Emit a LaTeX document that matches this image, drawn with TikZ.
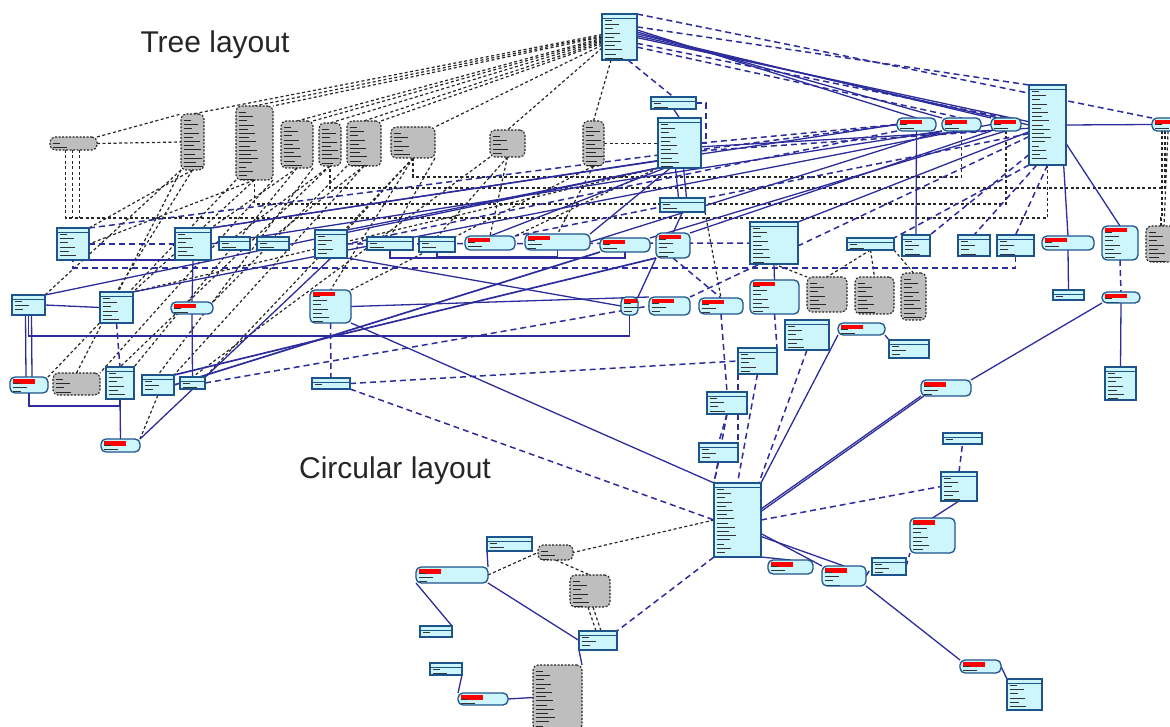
\documentclass[tikz,border=0pt]{standalone}
\usepackage{fontspec}
\newfontfamily\lbl{Liberation Sans}
\usetikzlibrary{calc}
\definecolor{tblf}{RGB}{204,246,252}
\definecolor{tblb}{RGB}{30,84,140}
\definecolor{lnb}{RGB}{44,44,156}
\definecolor{gfill}{RGB}{190,190,190}
\pgfdeclarelayer{bg}
\pgfsetlayers{bg,main}
\newcommand\fk[2]{\foreach \i in {0,...,#2}{\draw[solid,sharp corners,#1,line width=1pt] ([xshift=2.5pt,yshift={-6.5pt-\i*4.2pt}]path picture bounding box.north west) -- ++({7pt+mod(\i*7,13)*1pt},0pt);}}
\newcommand\nd[6]{\node[#1, minimum width={(#5-#3)*1pt}, minimum height={(#6-#4)*1pt}] (#2) at ({(#3+#5)/2},{(#4+#6)/2}) {};}
\tikzset{
 tbl/.style={draw=tblb,fill=tblf,line width=1.4pt,inner sep=0pt,outer sep=0pt,
  path picture={\draw[solid,tblb,line width=0.9pt]([yshift=-4pt]path picture bounding box.north west)--([yshift=-4pt]path picture bounding box.north east);\fk{black!80}{16}}},
 pill/.style={draw=tblb,fill=tblf,line width=1.3pt,inner sep=0pt,outer sep=0pt,rounded corners=5pt,
  path picture={\fill[red,sharp corners]([xshift=3pt,yshift=-2pt]path picture bounding box.north west) rectangle ++(22pt,-4.5pt);\fk{black!80}{10}}},
 gry/.style={draw=black!85,fill=gfill,dash pattern=on 2pt off 1.5pt,line width=1.1pt,rounded corners=5pt,inner sep=0pt,outer sep=0pt,
  path picture={\fk{black!85}{16}}},
 dep/.style={draw=black!85,dash pattern=on 3pt off 2.5pt,line width=1.2pt},
 rel/.style={draw=lnb,line width=1.3pt},
 reld/.style={draw=lnb,dash pattern=on 6pt off 4pt,line width=1.5pt},
 ttl/.style={font=\lbl\fontsize{30}{36}\selectfont,text=black!85,inner sep=0pt}
}
\begin{document}
\begin{tikzpicture}[x=1pt,y=-1pt]
\useasboundingbox (0,0) rectangle (1170,727);
\node[ttl] (tl) at (215,45) {Tree layout};
\node[ttl] (cl) at (395,471) {Circular layout};
% tree part
\nd{tbl}{T0}{602}{14}{637}{60}
\nd{tbl}{T1}{651}{97}{696}{109}
\nd{tbl}{T2}{658}{118}{701}{168}
\nd{tbl}{T3}{660}{198}{705}{212}
\nd{gry}{G1}{50}{137}{97}{150}
\nd{gry}{G2}{181}{114}{204}{170}
\nd{gry}{G3}{236}{106}{273}{180}
\nd{gry}{G4}{281}{121}{313}{168}
\nd{gry}{G5}{319}{123}{341}{166}
\nd{gry}{G6}{347}{121}{381}{166}
\nd{gry}{G7}{391}{127}{435}{158}
\nd{gry}{G8}{490}{130}{525}{157}
\nd{gry}{G9}{583}{121}{604}{166}
\nd{pill}{R1}{897}{118}{936}{131}
\nd{pill}{R2}{942}{118}{981}{131}
\nd{pill}{R3}{991}{118}{1021}{131}
\nd{tbl}{R4}{1029}{85}{1066}{165}
\nd{pill}{R5}{1152}{118}{1178}{131}
\nd{tbl}{A1}{57}{228}{89}{260}
\nd{tbl}{A2}{175}{228}{211}{260}
\nd{tbl}{A3}{219}{237}{250}{250}
\nd{tbl}{A4}{257}{237}{289}{250}
\nd{tbl}{A5}{315}{230}{347}{258}
\nd{tbl}{A6}{367}{237}{413}{250}
\nd{tbl}{A7}{419}{237}{455}{252}
\nd{pill}{A8}{465}{236}{515}{250}
\nd{pill}{A9}{525}{234}{590}{250}
\nd{pill}{A10}{600}{238}{650}{252}
\nd{pill}{A11}{656}{233}{690}{258}
\nd{tbl}{A12}{750}{222}{798}{264}
\nd{tbl}{A13}{847}{238}{894}{250}
\nd{tbl}{A14}{902}{235}{930}{256}
\nd{tbl}{A15}{958}{235}{990}{256}
\nd{tbl}{A16}{997}{235}{1034}{256}
\nd{pill}{A17}{1042}{236}{1094}{250}
\nd{pill}{A18}{1102}{226}{1138}{260}
\nd{gry}{A19}{1146}{226}{1176}{262}
\nd{tbl}{B1}{12}{295}{45}{315}
\nd{tbl}{B2}{100}{292}{133}{323}
\nd{pill}{B3}{171}{302}{213}{314}
\nd{pill}{B4}{310}{290}{351}{323}
\nd{pill}{B5}{621}{297}{638}{315}
\nd{pill}{B6}{649}{297}{690}{315}
\nd{pill}{B7}{699}{298}{743}{314}
\nd{pill}{B8}{750}{280}{799}{314}
\nd{gry}{B9}{807}{277}{847}{312}
\nd{gry}{B10}{855}{277}{894}{314}
\nd{gry}{B11}{901}{273}{926}{320}
\nd{tbl}{B12}{1053}{290}{1084}{300}
\nd{pill}{B13}{1102}{292}{1140}{303}
\nd{tbl}{C1}{785}{320}{829}{350}
\nd{pill}{C2}{838}{323}{885}{335}
\nd{tbl}{C3}{889}{340}{929}{358}
\nd{tbl}{C4}{738}{348}{777}{374}
\nd{pill}{C5}{921}{380}{971}{396}
\nd{tbl}{C6}{1105}{367}{1136}{400}
\nd{tbl}{C7}{707}{392}{747}{414}
\nd{tbl}{C8}{699}{443}{738}{462}
\nd{tbl}{C9}{714}{483}{761}{557}
\nd{pill}{D1}{10}{377}{48}{393}
\nd{gry}{D2}{53}{373}{100}{395}
\nd{tbl}{D3}{106}{367}{134}{399}
\nd{tbl}{D4}{142}{375}{174}{395}
\nd{tbl}{D5}{180}{377}{205}{389}
\nd{tbl}{D6}{312}{378}{350}{389}
\nd{pill}{D7}{101}{439}{140}{452}
% circular part
\nd{tbl}{E1}{943}{433}{982}{444}
\nd{tbl}{E2}{941}{472}{977}{501}
\nd{pill}{E3}{910}{518}{955}{553}
\nd{tbl}{E4}{872}{558}{906}{575}
\nd{pill}{E5}{822}{566}{866}{586}
\nd{pill}{E6}{768}{560}{813}{574}
\nd{pill}{E7}{960}{660}{1001}{673}
\nd{tbl}{E8}{1007}{679}{1042}{710}
\nd{tbl}{F1}{487}{537}{532}{551}
\nd{gry}{F2}{538}{545}{573}{560}
\nd{pill}{F3}{416}{567}{488}{583}
\nd{gry}{F4}{570}{575}{610}{607}
\nd{tbl}{F5}{420}{626}{452}{637}
\nd{tbl}{F6}{579}{631}{617}{650}
\nd{tbl}{F7}{430}{663}{462}{675}
\nd{pill}{F8}{458}{693}{508}{705}
\nd{gry}{F9}{533}{665}{582}{730}
\coordinate (h1) at (0,218);
\coordinate (h2) at (0,188);
\coordinate (h5) at (0,177);
\coordinate (h3) at (0,268);
\coordinate (h4) at (0,336);
\coordinate (h6) at (0,204);
\begin{pgfonlayer}{bg}
% T0 fan (black dashed)
\draw[dep] (T0.172) -- (G2.north);
\draw[dep] (T0.176) -- (G3.north);
\draw[dep] (T0.180) -- (G3.north east);
\draw[dep] (T0.184) -- (G4.north);
\draw[dep] (T0.188) -- (G4.north east);
\draw[dep] (T0.192) -- (G5.north);
\draw[dep] (T0.196) -- (G6.north);
\draw[dep] (T0.200) -- (G6.north east);
\draw[dep] (T0.205) -- (G7.north east);
\draw[dep] (T0.212) -- (G8.north);
\draw[dep] (T0.250) -- (G9.north);
\draw[dep] (G1.east) -- (G2.west);
\draw[dep] (G1.north east) -- (G2.north west);
\draw[dep] ([xshift=-8pt]G1.south) -- ([xshift=-8pt]G1.south |- h1) -- (h1 -| R4.south) -- (R4.south);
\draw[dep] ([xshift=-1pt]G1.south) -- ([xshift=-1pt]G1.south |- h1);
\draw[dep] ([xshift=6pt]G1.south) -- ([xshift=6pt]G1.south |- h1);
\draw[dep] ([xshift=-3pt]R5.south) -- ([xshift=-3pt]R5.south |- h1) -- (h1 -| A19.north) -- (A19.north);
\draw[dep] ([xshift=3pt]R5.south) -- ([xshift=3pt]A19.north);
\draw[dep] (R5.south) -- (R5.south |- h2) -- (h2 -| G5.south) -- (G5.south);
\draw[dep] (R2.south) -- (R2.south |- h5) -- (h5 -| G7.south) -- (G7.south);
\draw[dep] (R3.south) -- (R3.south |- h6) -- (h6 -| G3.south) -- (G3.south);
\draw[dep] (G9.east) -- (T2.west |- G9.east);
% G fans
\draw[dep] (G2.south) -- (A1.north east);
\draw[dep] (G2.south west) -- (B1.north east);
\draw[dep] (G2.south) -- (B2.north);
\draw[dep] (G3.south) -- (A1.east);
\draw[dep] (G3.south) -- (B2.north east);
\draw[dep] (G3.south west) -- (D1.north east);
\draw[dep] (G3.south east) -- (D2.north east);
\draw[dep] (G4.south) -- (A2.north east);
\draw[dep] (G4.south) -- (D3.north east);
\draw[dep] (G4.south east) -- (D4.north);
\draw[dep] (G5.south) -- (A3.north);
\draw[dep] (G5.south) -- (D3.north);
\draw[dep] (G6.south) -- (A4.north);
\draw[dep] (G6.south) -- (D4.north east);
\draw[dep] (G6.south west) -- (B3.north east);
\draw[dep] (G7.south) -- (A5.north east);
\draw[dep] (G7.south) -- (D5.north east);
\draw[dep] (G7.south east) -- (A6.north);
\draw[dep] (G7.south) -- (B4.north);
\draw[dep] (G8.south) -- (A7.north);
\draw[dep] (G8.south) -- (A8.north);
\draw[dep] (G8.south west) -- (D5.north);
\draw[dep] (G9.south) -- (A9.north);
\draw[dep] (G9.south) -- (B4.north east);
\draw[dep] (T2.south west) -- (A8.north east);
\draw[dep] (T2.south west) -- (B2.north east);
\draw[dep] (T3.south east) -- (B7.north);
\draw[dep] (A13.south) -- (B9.north);
\draw[dep] (A13.south) -- (B10.north);
\draw[dep] (A13.south east) -- (B11.north);
\draw[dep] (A12.south) -- (B9.north west);
\draw[dep] (D7.north east) -- (D4.south);
\draw[dep] (D2.north) -- (G2.south west);
% T0 / R relations (blue)
\draw[rel] (T0.22) -- (R1.north);
\draw[rel] (T0.16) -- (R2.north west);
\draw[rel] (T0.10) -- (R3.north west);
\draw[rel] (T0.4) -- (R4.west);
\draw[rel] (T0.-2) -- (R4.170);
\draw[reld] (T0.north east) -- (R5.north west);
\draw[reld] (T0.30) -- (R4.north west);
\draw[reld] (T0.340) -- (R3.north);
\draw[reld] (T0.330) -- (R2.north);
\draw[reld] (T0.290) -- (T1.north);
\draw[reld] (T1.east) -- ++(10,0) |- (T2.east);
\draw[rel] (T1.south) -- (T2.north);
\draw[rel] ([xshift=-4pt]T2.south) -- ([xshift=-4pt]T3.north);
\draw[rel] ([xshift=4pt]T2.south) -- ([xshift=4pt]T3.north);
\draw[rel] (T2.south west) -- (A5.north east);
\draw[rel] (T2.220) -- (A2.north east);
\draw[rel] (T2.250) -- (A9.north east);
\draw[rel] (T2.240) -- (A8.north);
\draw[reld] (T2.east) -- (R1.west);
\draw[reld] (T2.340) -- (R3.south west);
\draw[rel] (T2.350) -- (R4.190);
\draw[rel] (T3.south) -- (A11.north);
\draw[rel] (R3.south west) -- (A11.north east);
\draw[rel] (R3.south) -- (A10.north east);
\draw[rel] (R2.south west) -- (A9.east);
\draw[reld] (R1.south west) -- (A5.east);
\draw[rel] (R1.west) -- (A2.north east);
\draw[rel] (R4.200) -- (A12.north east);
\draw[reld] (R4.205) -- (A8.north east);
\draw[reld] (R4.212) -- (B6.north east);
\draw[reld] (R4.south west) -- (A13.north east);
\draw[reld] (R4.238) -- (A14.north east);
\draw[reld] (R4.255) -- (A15.north);
\draw[reld] (R4.south) -- (A16.north);
\draw[rel] (R4.292) -- (A17.north);
\draw[rel] (R4.315) -- (A18.north);
\draw[rel] (R4.east) -- (R5.west);
\draw[rel] (R1.south) -- (A14.north);
\draw[rel] (A17.south) -- (B12.north);
\draw[reld] (A18.south) -- (B13.north);
\draw[rel] (B13.south) -- (C6.north);
\draw[rel] (B13.south west) -- (C5.north east);
\draw[rel] (C5.south west) -- (C9.25);
\draw[rel] (C5.200) -- (C9.20);
\draw[rel] (C2.south west) -- (C9.north east);
\draw[rel] (C2.south east) -- (C3.north west);
\draw[rel] (A12.south) -- (B8.north);
\draw[rel] (A11.south west) -- (B5.north east);
\draw[reld] (A11.south) -- (B7.north);
\draw[reld] (B7.south) -- (C7.north);
\draw[reld] (B8.south) -- (C4.north east);
\draw[reld] (C4.south) -- (C9.north);
\draw[reld] (C4.south west) -- (C8.north east);
\draw[reld] (C7.south) -- (C9.north west);
\draw[reld] (C8.south) -- (C9.north west);
\draw[reld] (C7.south) -- (C8.north);
\draw[reld] (C1.south) -- (C9.60);
\draw[reld] (A16.south) -- (A16.south |- h3) -- (h3 -| A1.south) -- (A1.south);
\draw[rel] (A6.south) -- ++(0,8) -| (A10.south);
\draw[rel] (A7.south) -- ++(0,5) -| (A9.south);
% long blue lines in tree part
\draw[rel] (B1.north east) -- (T2.south west);
\draw[rel] (B2.north east) -- (R3.west);
\draw[rel] (A2.east) -- (R2.south west);
\draw[reld] (A1.north east) -- (R1.west);
\draw[reld] (A1.east) -- (A2.west);
\draw[rel] (A1.south east) -- (A2.south west);
\draw[rel] (A5.south east) -- (B5.west);
\draw[reld] (A5.east) -- (A12.west);
% left cluster
\draw[rel] (B1.east) -- (B2.west);
\draw[rel] (B1.south) -- (B1.south |- h4) -- (h4 -| B5.south) -- (B5.south);
\draw[rel] ([xshift=-3pt]B1.south) -- ([xshift=-3pt]D1.north);
\draw[rel] ([xshift=3pt]B1.south) -- ([xshift=3pt]D1.north);
\draw[rel] (D1.south) -- ++(0,13) -| (D3.south);
\draw[reld] (B2.south) -- (D3.north);
\draw[rel] (D3.south) -- (D7.north);
\draw[rel] (A2.south) -- (B3.north);
\draw[rel] (B3.south) -- (D5.north);
\draw[rel,line width=1.7pt] (D4.east) -- (A10.south west);
\draw[rel,line width=1.7pt] (D4.north east) -- (A11.south west);
\draw[rel] (D7.north east) -- (A5.south);
\draw[reld] (D5.east) -- (B6.west);
\draw[reld] (D6.east) -- (C4.west);
\draw[reld] (D6.south east) -- (C9.west);
\draw[reld] (B4.south) -- (D6.north);
\draw[rel] (B4.south east) -- (C9.north west);
\draw[rel] (B4.east) -- (B6.north west);
% circular part
\draw[rel] (C9.south east) -- (E6.north);
\draw[rel] (C9.330) -- (E5.north west);
\draw[rel] (C9.325) -- (E5.north);
\draw[rel] (E5.south east) -- (E7.north west);
\draw[rel] (E7.east) -- (E8.north west);
\draw[reld] (E5.east) -- (E4.west);
\draw[reld] (E4.east) -- (E3.south west);
\draw[rel] (E3.north) -- (E2.south);
\draw[reld] (E2.north) -- (E1.south);
\draw[reld] (C9.east) -- (E2.west);
\draw[dep] (C9.west) -- (F2.east);
\draw[reld] (C9.south west) -- (F6.north east);
\draw[rel] (F3.north east) -- (F1.south west);
\draw[dep] (F3.east) -- (F2.west);
\draw[dep] (F2.south) -- (F4.north);
\draw[dep] ([xshift=-2pt]F4.south) -- ([xshift=-2pt]F6.north);
\draw[dep] ([xshift=3pt]F4.south) -- ([xshift=3pt]F6.north);
\draw[rel] (F3.south east) -- (F6.west);
\draw[rel] (F3.south west) -- (F5.north east);
\draw[rel] (F6.south west) -- (F9.north east);
\draw[rel] (F9.west) -- (F8.east);
\draw[rel] (F8.north west) -- (F7.south east);
\end{pgfonlayer}
\end{tikzpicture}
\end{document}
